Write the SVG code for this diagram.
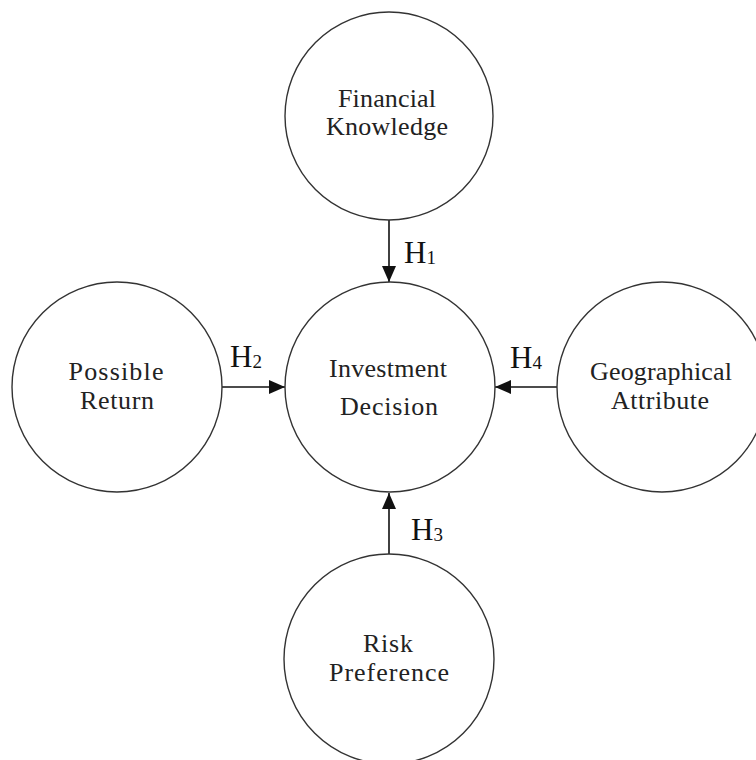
<svg xmlns="http://www.w3.org/2000/svg" width="756" height="760" viewBox="0 0 756 760">
<style>
.node circle{fill:#fff;stroke:#333;stroke-width:1.4}
.lbl{font-family:"Liberation Serif","Times New Roman",serif;font-size:26px;fill:#222;text-anchor:middle}
.h{font-family:"Liberation Serif","Times New Roman",serif;font-size:31px;fill:#111}
.sub{font-size:19px}
.conn line{stroke:#111;stroke-width:1.6;marker-end:url(#ah)}
</style>
<defs>
<marker id="ah" viewBox="0 0 16 14" refX="16" refY="7" markerWidth="16" markerHeight="14" markerUnits="userSpaceOnUse" orient="auto">
<path d="M0,0 L16,7 L0,14 z" fill="#111"/>
</marker>
</defs>
<rect width="756" height="760" fill="#fff"/>
<g id="connectors" class="conn">
<line x1="389" y1="220" x2="389" y2="282"/>
<line x1="222" y1="387" x2="285" y2="387"/>
<line x1="558" y1="387" x2="495" y2="387"/>
<line x1="389" y1="554" x2="389" y2="493"/>
</g>
<g id="financial-knowledge" class="node">
<circle cx="389" cy="116" r="104"/>
<text class="lbl" x="387" y="107" textLength="98" lengthAdjust="spacing">Financial</text>
<text class="lbl" x="387" y="135" textLength="122" lengthAdjust="spacing">Knowledge</text>
</g>
<g id="investment-decision" class="node">
<circle cx="390" cy="387" r="105"/>
<text class="lbl" x="388" y="377" textLength="118" lengthAdjust="spacing">Investment</text>
<text class="lbl" x="389" y="415" textLength="98" lengthAdjust="spacing">Decision</text>
</g>
<g id="possible-return" class="node">
<circle cx="117" cy="387" r="105"/>
<text class="lbl" x="116" y="380" textLength="95" lengthAdjust="spacing">Possible</text>
<text class="lbl" x="117" y="409" textLength="74" lengthAdjust="spacing">Return</text>
</g>
<g id="geographical-attribute" class="node">
<circle cx="662" cy="387" r="105"/>
<text class="lbl" x="661" y="380" textLength="142" lengthAdjust="spacing">Geographical</text>
<text class="lbl" x="660" y="409" textLength="98" lengthAdjust="spacing">Attribute</text>
</g>
<g id="risk-preference" class="node">
<circle cx="389" cy="659" r="105"/>
<text class="lbl" x="388" y="652" textLength="50" lengthAdjust="spacing">Risk</text>
<text class="lbl" x="389" y="681" textLength="120" lengthAdjust="spacing">Preference</text>
</g>
<g id="labels">
<text class="h" x="404" y="263">H<tspan class="sub" dy="1">1</tspan></text>
<text class="h" x="230" y="367">H<tspan class="sub" dy="1">2</tspan></text>
<text class="h" x="411" y="540">H<tspan class="sub" dy="1">3</tspan></text>
<text class="h" x="510" y="368">H<tspan class="sub" dy="1">4</tspan></text>
</g>
</svg>
